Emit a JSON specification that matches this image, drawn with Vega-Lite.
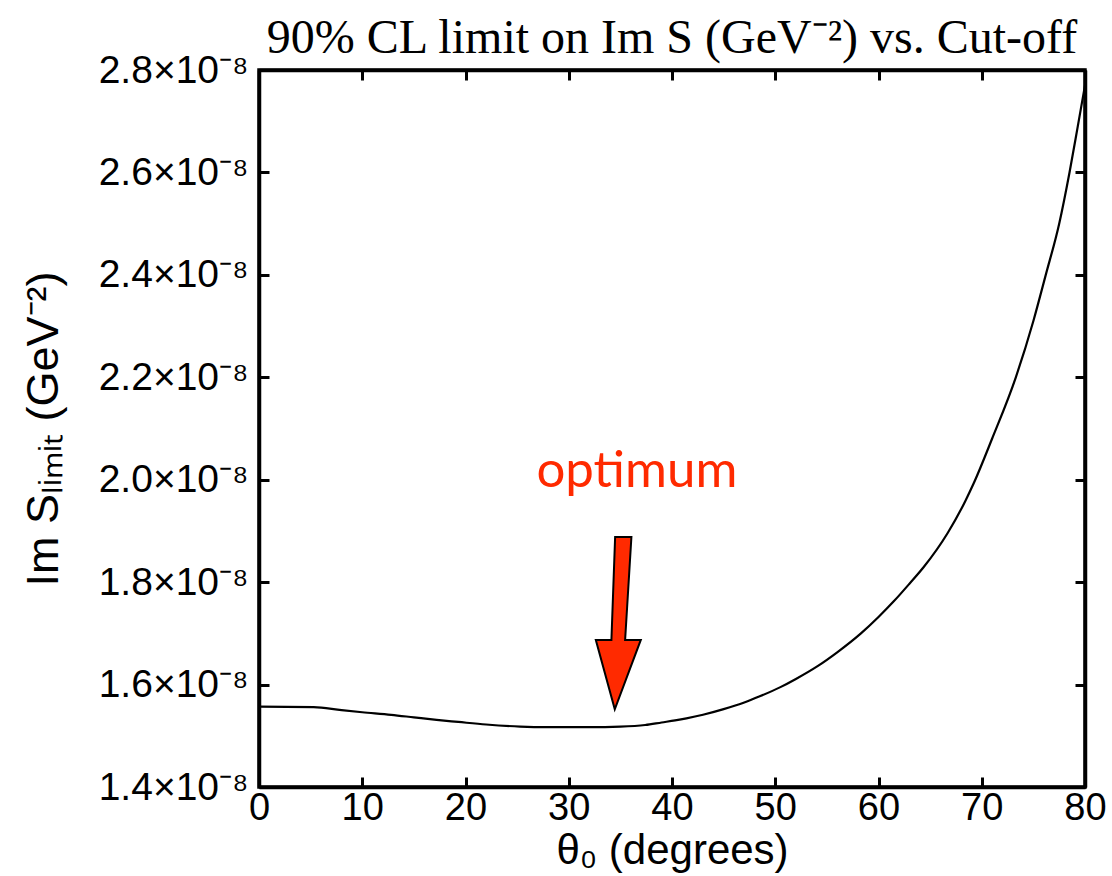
{
  "$schema": "https://vega.github.io/schema/vega-lite/v6.json",
  "width": 826,
  "height": 717,
  "autosize": "none",
  "padding": {"left": 259, "top": 70, "right": 27, "bottom": 89},
  "background": "white",
  "title": {"text": "90% CL limit on Im S (GeV⁻²) vs. Cut-off", "font": "Liberation Serif", "fontSize": 48, "fontWeight": "normal", "color": "black", "anchor": "middle", "offset": -12},
  "config": {
    "view": {"stroke": "black", "strokeWidth": 3.5},
    "axis": {"domainColor": "black", "domainWidth": 3.5, "tickColor": "black", "tickWidth": 3, "tickSize": -10, "labelFlush": false, "labelFont": "Liberation Sans", "labelFontSize": 39, "labelColor": "black", "titleFont": "Liberation Sans", "titleFontSize": 45, "titleFontWeight": "normal", "titleColor": "black", "grid": false}
  },
  "datasets": {
    "curve": [
      {"x": 0, "y": 1.557e-8}, {"x": 5.3, "y": 1.556e-8}, {"x": 8, "y": 1.550e-8}, {"x": 10, "y": 1.546e-8},
      {"x": 12.8, "y": 1.541e-8}, {"x": 15, "y": 1.536e-8}, {"x": 17.2, "y": 1.531e-8}, {"x": 19.3, "y": 1.527e-8},
      {"x": 22, "y": 1.522e-8}, {"x": 25.3, "y": 1.518e-8}, {"x": 28, "y": 1.517e-8}, {"x": 32, "y": 1.517e-8},
      {"x": 35, "y": 1.518e-8}, {"x": 37.4, "y": 1.521e-8}, {"x": 39, "y": 1.526e-8}, {"x": 40.3, "y": 1.530e-8},
      {"x": 41.4, "y": 1.534e-8}, {"x": 43, "y": 1.541e-8}, {"x": 45, "y": 1.552e-8}, {"x": 47, "y": 1.565e-8},
      {"x": 48.5, "y": 1.577e-8}, {"x": 50.5, "y": 1.595e-8}, {"x": 52, "y": 1.611e-8}, {"x": 54.1, "y": 1.636e-8},
      {"x": 56, "y": 1.663e-8}, {"x": 58.3, "y": 1.700e-8}, {"x": 60, "y": 1.732e-8}, {"x": 61.5, "y": 1.763e-8},
      {"x": 63, "y": 1.797e-8}, {"x": 64.4, "y": 1.830e-8}, {"x": 66.7, "y": 1.896e-8}, {"x": 68.4, "y": 1.958e-8},
      {"x": 69.2, "y": 1.992e-8}, {"x": 71, "y": 2.080e-8}, {"x": 73.3, "y": 2.200e-8}, {"x": 75, "y": 2.310e-8},
      {"x": 76.2, "y": 2.400e-8}, {"x": 77.5, "y": 2.500e-8}, {"x": 78.5, "y": 2.600e-8}, {"x": 79.3, "y": 2.690e-8},
      {"x": 80, "y": 2.770e-8}
    ],
    "arrow": [{"x": 34.8, "y": 1.72e-8}],
    "label": [{"x": 36.6, "y": 1.986e-8, "text": "optimum"}]
  },
  "layer": [
    {
      "data": {"name": "curve"},
      "mark": {"type": "line", "color": "black", "strokeWidth": 2.2, "interpolate": "monotone"},
      "encoding": {
        "x": {"field": "x", "type": "quantitative", "scale": {"domain": [0, 80], "nice": false, "zero": false},
              "axis": {"orient": "bottom", "values": [0, 10, 20, 30, 40, 50, 60, 70, 80], "labelFontSize": 38, "labelPadding": 12, "title": "θ₀ (degrees)", "titleFontSize": 42, "titlePadding": 3}},
        "y": {"field": "y", "type": "quantitative", "scale": {"domain": [1.4e-8, 2.8e-8], "nice": false, "zero": false},
              "axis": {"orient": "left", "values": [1.4e-8, 1.6e-8, 1.8e-8, 2.0e-8, 2.2e-8, 2.4e-8, 2.6e-8, 2.8e-8],
                       "labelExpr": "format(datum.value * 1e8, '.1f') + '×10⁻⁸'", "labelPadding": 21,
                       "title": "Im Sₗᵢₘᵢₜ (GeV⁻²)", "titlePadding": 32}}
      }
    },
    {
      "data": {"name": "curve"},
      "mark": {"type": "point", "opacity": 0},
      "encoding": {
        "x": {"field": "x", "type": "quantitative", "scale": {"domain": [0, 80], "nice": false, "zero": false},
              "axis": {"orient": "top", "values": [0, 10, 20, 30, 40, 50, 60, 70, 80], "labels": false, "title": null}},
        "y": {"field": "y", "type": "quantitative", "scale": {"domain": [1.4e-8, 2.8e-8], "nice": false, "zero": false},
              "axis": {"orient": "right", "values": [1.4e-8, 1.6e-8, 1.8e-8, 2.0e-8, 2.2e-8, 2.4e-8, 2.6e-8, 2.8e-8], "labels": false, "title": null}}
      }
    },
    {
      "data": {"name": "arrow"},
      "mark": {"type": "point", "shape": "M -0.037 -1 L 0.152 -1 L 0.079 0.195 L 0.261 0.195 L -0.041 1 L -0.261 0.195 L -0.080 0.195 Z",
               "filled": true, "fill": "#ff2a00", "stroke": "black", "strokeWidth": 2, "size": 29687, "opacity": 1},
      "encoding": {
        "x": {"field": "x", "type": "quantitative", "scale": {"domain": [0, 80], "nice": false, "zero": false}, "axis": null},
        "y": {"field": "y", "type": "quantitative", "scale": {"domain": [1.4e-8, 2.8e-8], "nice": false, "zero": false}, "axis": null}
      }
    },
    {
      "data": {"name": "label"},
      "mark": {"type": "text", "font": "Lato", "fontSize": 51, "color": "#ff2a00", "align": "center", "baseline": "alphabetic"},
      "encoding": {
        "x": {"field": "x", "type": "quantitative", "scale": {"domain": [0, 80], "nice": false, "zero": false}, "axis": null},
        "y": {"field": "y", "type": "quantitative", "scale": {"domain": [1.4e-8, 2.8e-8], "nice": false, "zero": false}, "axis": null},
        "text": {"field": "text"}
      }
    }
  ],
  "resolve": {"axis": {"x": "independent", "y": "independent"}}
}
